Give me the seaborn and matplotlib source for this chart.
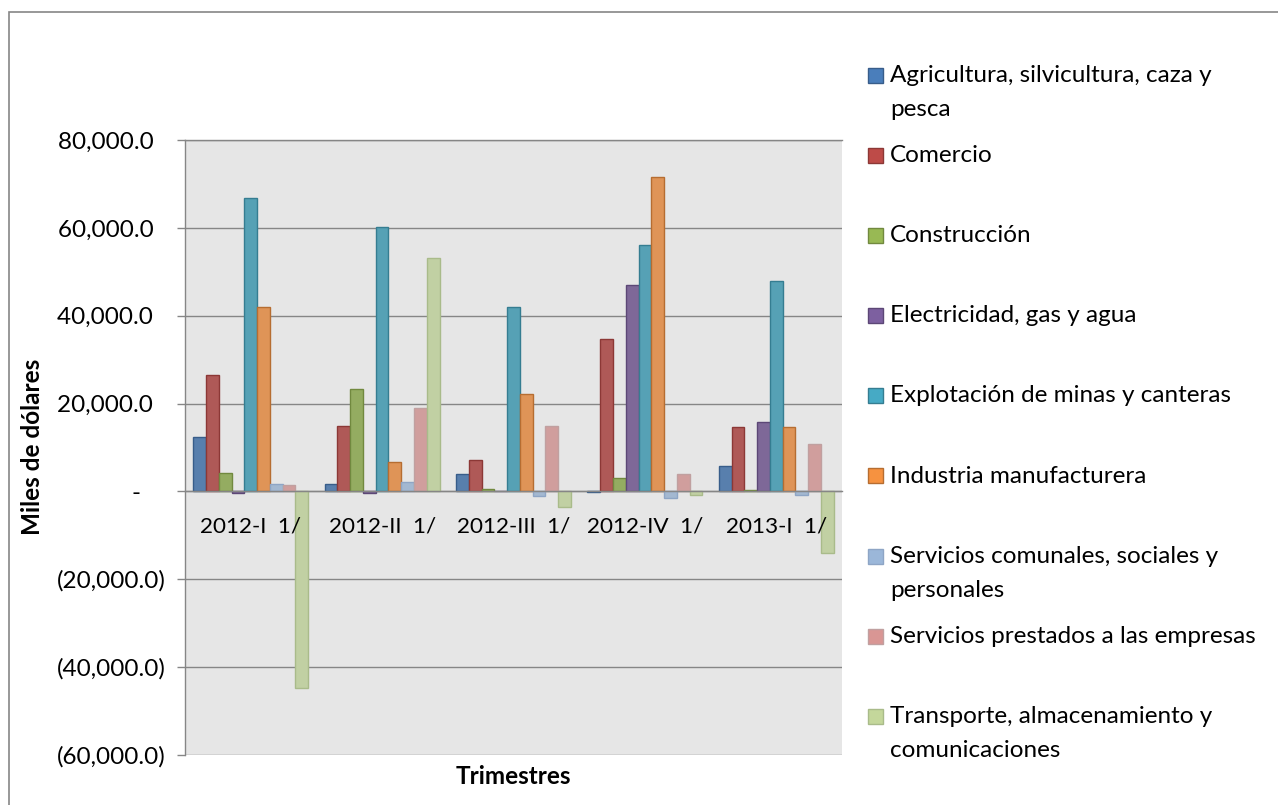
import matplotlib
matplotlib.use("Agg")
import matplotlib.pyplot as plt
from matplotlib.patches import Rectangle
from matplotlib.ticker import FuncFormatter, MultipleLocator
import seaborn as sns
import pandas as pd

# ---------------- data ----------------
categories = ["2012-I  1/", "2012-II  1/", "2012-III  1/", "2012-IV  1/", "2013-I  1/"]

legend_labels = [
    "Agricultura, silvicultura, caza y\npesca",
    "Comercio",
    "Construcción",
    "Electricidad, gas y agua",
    "Explotación de minas y canteras",
    "Industria manufacturera",
    "Servicios comunales, sociales y\npersonales",
    "Servicios prestados a las empresas",
    "Transporte, almacenamiento y\ncomunicaciones",
]
series_names = [s.replace("\n", " ") for s in legend_labels]

agricultura = [12300, 1700, 3900, -200, 5700]
comercio = [26400, 14900, 7100, 34700, 14600]
construccion = [4200, 23400, 500, 3000, 300]
electricidad = [-300, -300, 200, 47100, 15800]
explotacion = [66700, 60300, 42000, 56200, 48000]
industria = [41900, 6700, 22100, 71500, 14700]
serv_comunales = [1800, 2200, -1100, -1400, -900]
serv_prestados = [1500, 18900, 14900, 4000, 10800]
transporte = [-44800, 53100, -3600, -700, -14000]

values = [agricultura, comercio, construccion, electricidad, explotacion,
          industria, serv_comunales, serv_prestados, transporte]

fill_colors = ["#4A7EBB", "#BE4B48", "#98B954", "#7D60A0", "#46AAC5",
               "#F69240", "#9BB7D9", "#D99694", "#C4D79B"]
edge_colors = ["#385D8A", "#8C3836", "#71893F", "#5C4776", "#357D91",
               "#B66D31", "#8EA5C5", "#C0A0A0", "#A9BB8A"]

rows = []
for name, vals in zip(series_names, values):
    for cat, v in zip(categories, vals):
        rows.append({"Trimestre": cat, "Sector": name, "Valor": v})
df = pd.DataFrame(rows)

# ---------------- figure ----------------
W, H = 1278, 805
FS = 17.5
fig = plt.figure(figsize=(W / 100, H / 100), dpi=100)
fig.patch.set_facecolor("white")
plt.rcParams["font.family"] = ["Lato", "DejaVu Sans"]

def fx(px):
    return px / W

def fy(py):
    return 1 - py / H

left, right, top, bottom = 185, 842, 140, 755
ax = fig.add_axes([fx(left), fy(bottom), fx(right - left), (bottom - top) / H])
ax.set_facecolor("#E6E6E6")

sns.barplot(data=df, x="Trimestre", y="Valor", hue="Sector",
            order=categories, hue_order=series_names,
            palette=fill_colors, width=0.874, errorbar=None,
            legend=False, ax=ax, zorder=3)

for cont, ec in zip(ax.containers, edge_colors):
    for bar in cont:
        bar.set_edgecolor(ec)
        bar.set_linewidth(1.0)
        bar.set_zorder(3)

ax.set_ylim(-60000, 80000)
ax.set_xlim(-0.5, len(categories) - 0.5)
ax.yaxis.set_major_locator(MultipleLocator(20000))

def yfmt(v, pos):
    if abs(v) < 1e-6:
        return "-    "
    s = f"{abs(v):,.1f}"
    return f"({s})" if v < 0 else s + "  "

ax.yaxis.set_major_formatter(FuncFormatter(yfmt))

grid_color = "#868686"
ax.grid(axis="y", color=grid_color, linewidth=1.0, zorder=0)
ax.grid(axis="x", visible=False)
ax.set_axisbelow(True)
ax.xaxis.set_zorder(5)

ax.spines["right"].set_visible(False)
for side in ["left", "top", "bottom"]:
    ax.spines[side].set_color(grid_color)
    ax.spines[side].set_linewidth(1.0)
ax.spines["bottom"].set_position(("data", 0))
ax.spines["bottom"].set_zorder(4)

ax.tick_params(axis="y", direction="out", length=5.8, width=1.0,
               color=grid_color, pad=8.0, labelsize=FS, labelcolor="black")
ax.tick_params(axis="x", length=0, pad=18, labelsize=16.2, labelcolor="black")
ax.set_xlabel("")
ax.set_ylabel("")

# axis titles
fig.text(fx(33), fy(447), "Miles de dólares", rotation=90, ha="center",
         va="center", fontsize=FS, fontweight="bold")
fig.text(fx(513), fy(776), "Trimestres", ha="center", va="center",
         fontsize=FS, fontweight="bold")

# legend (manual, Excel style)
y0, step, line_h = 75.5, 80.1, 34
for i, (lab, fc, ec) in enumerate(zip(legend_labels, fill_colors, edge_colors)):
    yc = y0 + i * step
    fig.patches.append(Rectangle((fx(868), fy(yc + 7.5)), fx(15), 15 / H,
                                 facecolor=fc, edgecolor=ec, linewidth=1.0,
                                 transform=fig.transFigure, figure=fig))
    for k, line in enumerate(lab.split("\n")):
        fig.text(fx(890), fy(yc + k * line_h), line, ha="left",
                 va="center", fontsize=FS)

# outer chart border
fig.patches.append(Rectangle((fx(9), -0.05), 1.2, fy(12) + 0.05,
                             facecolor="none", edgecolor="#868686",
                             linewidth=1.2, transform=fig.transFigure,
                             figure=fig, clip_on=False))

fig.savefig("out.png", dpi=100, facecolor="white")
